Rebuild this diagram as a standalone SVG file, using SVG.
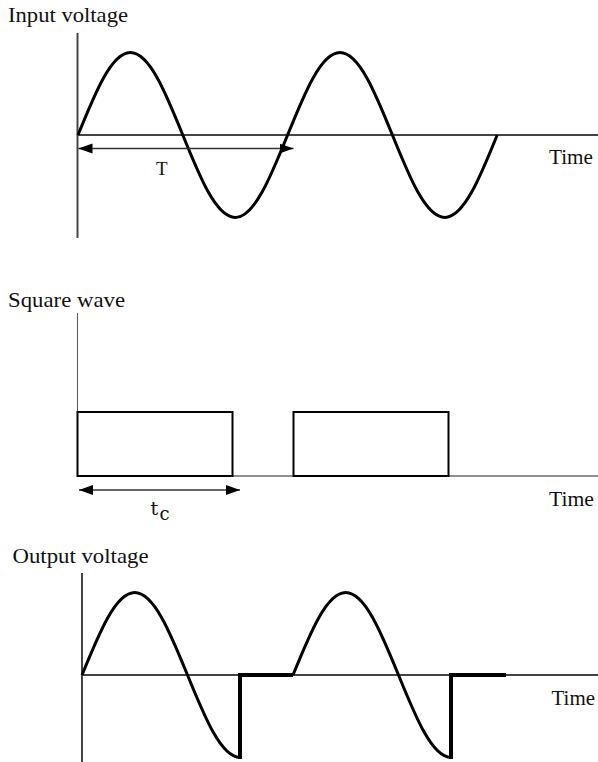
<svg xmlns="http://www.w3.org/2000/svg" width="598" height="762" viewBox="0 0 598 762">
  <style>
    .lbl { font-family: "Liberation Serif", "Times New Roman", serif; font-size: 21px; fill: #111; }
    .axis { stroke: #444; stroke-width: 2; fill: none; }
    .wave { stroke: #000; stroke-width: 3; fill: none; stroke-linejoin: round; }
    .clip { stroke: #000; stroke-width: 4; fill: none; }
    .pulse { stroke: #000; stroke-width: 2; fill: #fff; }
    .dim { stroke: #333; stroke-width: 1.3; fill: none; }
  </style>
  <defs>
    <marker id="ahEnd" markerUnits="userSpaceOnUse" markerWidth="14" markerHeight="12" refX="14" refY="6" orient="auto">
      <path d="M0,1 L14,6 L0,11 Z" fill="#000"/>
    </marker>
    <marker id="ahStart" markerUnits="userSpaceOnUse" markerWidth="14" markerHeight="12" refX="0" refY="6" orient="auto">
      <path d="M14,1 L0,6 L14,11 Z" fill="#000"/>
    </marker>
  </defs>
  <rect width="598" height="762" fill="#fff"/>

  <!-- Panel 1: input voltage -->
  <g id="input-panel">
    <text class="lbl" x="8" y="22" textLength="120" lengthAdjust="spacingAndGlyphs">Input voltage</text>
    <line class="axis" x1="77.5" y1="33" x2="77.5" y2="238" stroke="#333" stroke-width="2.5"/>
    <line class="axis" x1="77" y1="135" x2="598" y2="135"/>
    <path id="input-wave" class="wave" d="M78,135 C95.09,92.74 111.44,52.5 130.4,52.5 C149.36,52.5 165.71,92.74 182.8,135 C199.89,177.26 216.24,217.5 235.2,217.5 C254.16,217.5 270.51,177.26 287.6,135 C304.69,92.74 321.04,52.5 340,52.5 C358.96,52.5 375.31,92.74 392.4,135 C409.49,177.26 425.84,217.5 444.8,217.5 C463.76,217.5 480.11,177.26 497.2,135"/>
    <text class="lbl" x="549" y="164" textLength="44" lengthAdjust="spacingAndGlyphs">Time</text>
  </g>

  <!-- Panel 2: square wave -->
  <g id="square-panel">
    <text class="lbl" x="8" y="306.5" textLength="117" lengthAdjust="spacingAndGlyphs">Square wave</text>
    <line x1="77.5" y1="313" x2="77.5" y2="476" stroke="#555" stroke-width="1"/>
    <line x1="77" y1="476" x2="598" y2="476" stroke="#222" stroke-width="1.2"/>
    <rect id="pulse-1" class="pulse" x="77.5" y="412" width="155" height="64"/>
    <rect id="pulse-2" class="pulse" x="293.5" y="412" width="155" height="64"/>
    <text class="lbl" x="549" y="506" textLength="45" lengthAdjust="spacingAndGlyphs">Time</text>
  </g>

  <!-- Panel 3: output voltage -->
  <g id="output-panel">
    <text class="lbl" x="12.5" y="563" textLength="136" lengthAdjust="spacingAndGlyphs">Output voltage</text>
    <line class="axis" x1="82" y1="573" x2="82" y2="762" stroke="#333" stroke-width="2.5"/>
    <line class="axis" x1="82" y1="675" x2="598" y2="675"/>
    <path id="output-wave-1" class="wave" d="M82,675 C99.2,632.74 115.66,592.5 134.75,592.5 C153.84,592.5 170.3,632.74 187.5,675 C204.7,717.26 221.16,757.5 240,757.5"/>
    <path id="output-clip-1" class="clip" d="M240,759 L240,675 L293,675"/>
    <path id="output-wave-2" class="wave" d="M293,675 C310.2,632.74 326.66,592.5 345.75,592.5 C364.84,592.5 381.3,632.74 398.5,675 C415.7,717.26 432.16,757.5 451,757.5"/>
    <path id="output-clip-2" class="clip" d="M451,759 L451,675 L506,675"/>
    <text class="lbl" x="551.5" y="705" textLength="43.5" lengthAdjust="spacingAndGlyphs">Time</text>
  </g>

  <!-- Dimension connectors -->
  <g id="connectors">
    <line id="period-arrow" class="dim" x1="78.5" y1="148.5" x2="293.5" y2="148.5" marker-start="url(#ahStart)" marker-end="url(#ahEnd)"/>
    <line id="tc-arrow" class="dim" x1="79" y1="490" x2="240" y2="490" marker-start="url(#ahStart)" marker-end="url(#ahEnd)"/>
  </g>

  <g id="period-label">
    <text x="156" y="174.5" font-family="Liberation Serif, serif" font-size="19" fill="#111">T</text>
  </g>
  <g id="tc-label">
    <text font-family="DejaVu Serif, serif" fill="#111"><tspan x="150.5" y="515" font-size="19">t</tspan><tspan x="159.5" y="520" font-size="18">c</tspan></text>
  </g>
</svg>
